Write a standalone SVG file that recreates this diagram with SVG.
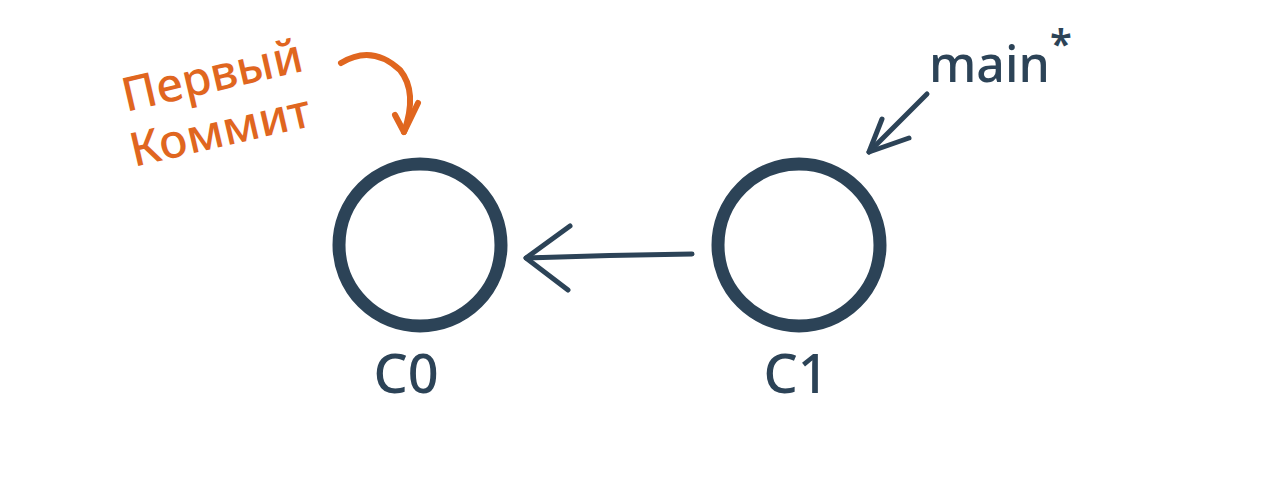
<svg xmlns="http://www.w3.org/2000/svg" width="1280" height="498" viewBox="0 0 1280 498">
<style>
.ring{fill:none;stroke:#2c4357;stroke-width:13}
.lbl{font-family:"Noto Sans","DejaVu Sans",sans-serif;fill:#2c4357;font-size:54px;font-weight:500;text-anchor:middle}
.dark{fill:none;stroke:#2c4357;stroke-width:5;stroke-linecap:round;stroke-linejoin:round}
.or{fill:none;stroke:#e0661f;stroke-width:6;stroke-linecap:round;stroke-linejoin:round}
.ot{font-family:"Noto Sans","DejaVu Sans",sans-serif;fill:#e0661f;font-size:47px;font-weight:500}
</style>
<rect width="1280" height="498" fill="#ffffff"/>
<g id="C0">
<circle class="ring" cx="420" cy="245" r="81"/>
<text class="lbl" x="406" y="393">C0</text>
</g>
<g id="C1">
<circle class="ring" cx="799" cy="245" r="81"/>
<text class="lbl" x="796" y="393">C1</text>
</g>
<g id="main">
<text font-family="Noto Sans, DejaVu Sans, sans-serif" font-size="50" font-weight="500" fill="#2c4357" x="929" y="82">main</text>
<text font-family="Noto Sans, DejaVu Sans, sans-serif" font-size="40" font-weight="600" fill="#2c4357" x="1050" y="58">*</text>
</g>
<g id="first-commit">
<text class="ot" transform="rotate(-13 126 112)" x="126" y="112">Первый</text>
<text class="ot" transform="rotate(-13 134 167)" x="134" y="167">Коммит</text>
</g>
<g id="connectors">
<path class="dark" d="M692 254 Q610 255 526 258"/>
<path class="dark" d="M570 226 L526 258 L568 290"/>
<path class="dark" d="M927 94 L869 152"/>
<path class="dark" d="M882 119 L869 152 L909 138"/>
<path class="or" d="M341 63 Q372 44 400 70 Q418 92 404 132"/>
<path class="or" d="M395 115 L404 132 L418 103"/>
</g>
</svg>
